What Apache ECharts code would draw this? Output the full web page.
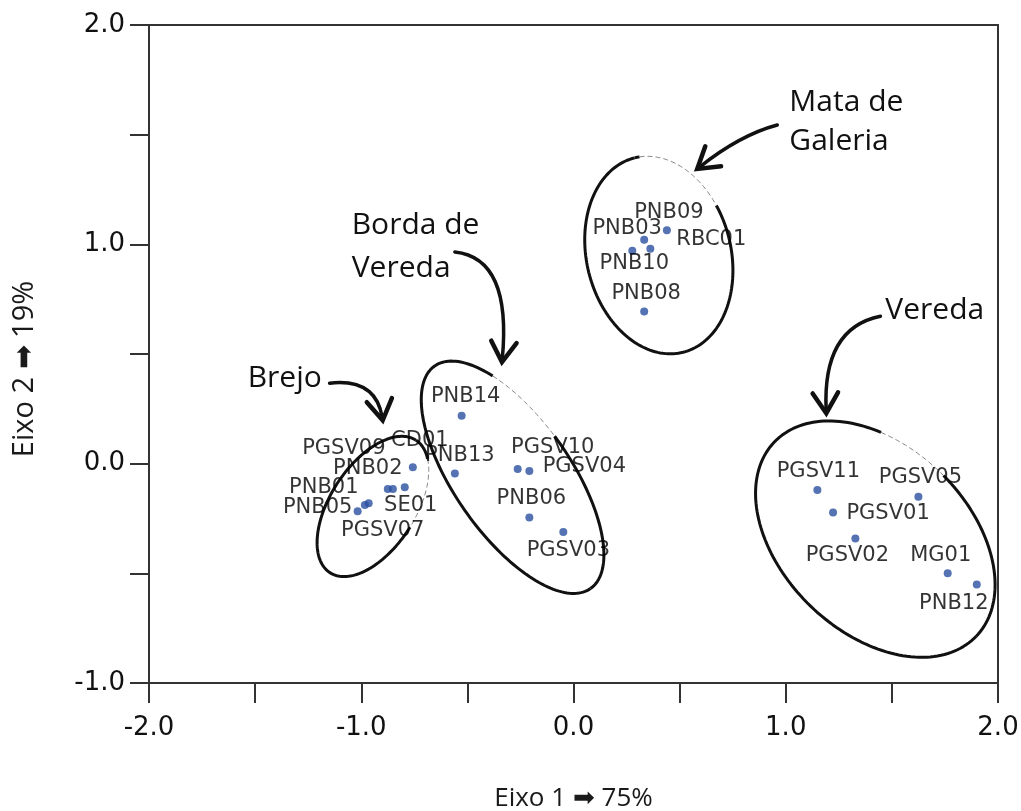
<!DOCTYPE html>
<html><head><meta charset="utf-8">
<script src="https://cdn.jsdelivr.net/npm/echarts@6/dist/echarts.min.js"></script>
<style>html,body{margin:0;padding:0;background:#fff}#c{width:1021px;height:811px}</style>
</head><body><div id="c"></div>
<script>
// ---- data ----
const pointNames = ['PNB14','PNB13','PGSV10','PGSV04','PNB06','PGSV03','PNB09','PNB03','RBC01','PNB10','PNB08','PGSV11','PGSV05','PGSV01','PGSV02','MG01','PNB12','PNB02','PNB01','CD01','SE01','PGSV09','PGSV07','PNB05'];
const eixo1 = [-0.527,-0.559,-0.263,-0.208,-0.208,-0.048,0.440,0.333,0.362,0.277,0.333,1.149,1.625,1.223,1.328,1.763,1.900,-0.757,-0.875,-0.851,-0.795,-0.983,-0.965,-1.017];
const eixo2 = [0.218,-0.045,-0.024,-0.033,-0.245,-0.311,1.064,1.021,0.980,0.971,0.694,-0.120,-0.151,-0.223,-0.341,-0.500,-0.551,-0.016,-0.116,-0.116,-0.107,-0.189,-0.180,-0.217];
const xTickLabels = ['-2.0','-1.0','0.0','1.0','2.0'];
const yTickLabels = ['-1.0','0.0','1.0','2.0'];
const groupNames = ['Brejo','Borda de','Vereda','Mata de','Galeria','Vereda'];

// ---- layout (label offsets in px, annotation geometry in data units) ----
const labelOffset = {
  PNB14:[4,-19], PNB13:[5,-18], PGSV10:[35,-21], PGSV04:[55,-4], PNB06:[2,-19], PGSV03:[5,19],
  PNB09:[2,-18], PNB03:[-17,-11], RBC01:[61,-9], PNB10:[2,13], PNB08:[2,-18],
  PGSV11:[1,-18], PGSV05:[2,-19], PGSV01:[55,1], PGSV02:[-8,17], MG01:[-7,-18], PNB12:[-23,19],
  PNB02:[-45,1], PNB01:[-64,-2], CD01:[27,-49], SE01:[6,18], PGSV09:[-21,-57], PGSV07:[14,27], PNB05:[-40,-4]
};
const ellipseLayout = [
  {c:[-0.945,-0.195], a:0.372, b:0.200, angle:57,  thin:[-30,40]},
  {c:[-0.287,-0.062], a:0.640, b:0.274, angle:-55, thin:[40,100]},
  {c:[0.402,0.951],   a:0.472, b:0.340, angle:104, thin:[40,100]},
  {c:[1.422,-0.344],  a:0.660, b:0.439, angle:-44, thin:[40,85]}
];
const arrowLayout = [
  {p0:[-1.149,0.367], cp:[-0.932,0.390], tip:[-0.899,0.198]},
  {p0:[-0.559,0.965], cp:[-0.290,0.937], tip:[-0.337,0.463]},
  {p0:[0.960,1.544],  cp:[0.785,1.499],  tip:[0.583,1.344]},
  {p0:[1.446,0.672],  cp:[1.172,0.618],  tip:[1.191,0.230]}
];
const textLayout = [[-1.535,0.39],[-1.045,1.088],[-1.045,0.892],[1.017,1.649],[1.017,1.469],[1.469,0.70]];

function inRange(phi, r){
  for (let k=-1;k<=1;k++){ const q = phi + 360*k; if (q>=r[0] && q<=r[1]) return true; }
  return false;
}

const scatterData = pointNames.map((n,i)=>({
  name:n, value:[eixo1[i], eixo2[i]],
  label:{offset: labelOffset[n]}
}));

const chart = echarts.init(document.getElementById('c'), null, {renderer:'canvas'});
const axisCol = '#333';
const tickFont = {fontFamily:'DejaVu Sans', fontSize:26, color:'#111'};
chart.setOption({
  animation:false,
  backgroundColor:'#ffffff',
  grid:{left:149, right:23, top:25, bottom:128, show:true, borderColor:axisCol, borderWidth:2, outerBoundsMode:'none', containLabel:false},
  xAxis:{
    type:'value', min:-2, max:2, interval:0.5,
    name:'Eixo 1 \u27A1 75%', nameLocation:'middle', nameGap:103,
    nameTextStyle:{fontFamily:'Open Sans', fontSize:26, color:'#1a1a1a'},
    axisLine:{show:true, onZero:false, lineStyle:{color:axisCol, width:2}},
    axisTick:{show:true, inside:false, length:20, lineStyle:{color:axisCol, width:2}},
    axisLabel:Object.assign({margin:32, formatter:v=>Number.isInteger(v)?xTickLabels[v+2]:''}, tickFont),
    splitLine:{show:false}
  },
  yAxis:{
    type:'value', min:-1, max:2, interval:0.5,
    name:'Eixo 2 \u27A1 19%', nameLocation:'middle', nameGap:110, nameRotate:90,
    nameTextStyle:{fontFamily:'Open Sans', fontSize:29, color:'#1a1a1a', padding:[0,30,0,0]},
    axisLine:{show:true, onZero:false, lineStyle:{color:axisCol, width:2}},
    axisTick:{show:true, inside:false, length:19, lineStyle:{color:axisCol, width:2}},
    axisLabel:Object.assign({margin:24, formatter:v=>Number.isInteger(v)?yTickLabels[v+1]:''}, tickFont),
    splitLine:{show:false}
  },
  series:[
    {
      type:'custom', name:'ellipses', coordinateSystem:'cartesian2d', clip:false, z:2,
      data: ellipseLayout.map(e=>e.c),
      renderItem:function(params, api){
        const e = ellipseLayout[params.dataIndex];
        const c = api.coord(e.c);
        const A = api.size([e.a,0])[0];
        const B = api.size([e.b,0])[0];
        const th = e.angle*Math.PI/180;
        const ux=Math.cos(th), uy=-Math.sin(th);
        const vx=-uy, vy=ux;
        const segs=[]; let cur=null; let curThin=null;
        for(let d=0; d<=360; d+=2){
          const t=d*Math.PI/180;
          const px=c[0]+A*Math.cos(t)*ux+B*Math.sin(t)*vx;
          const py=c[1]+A*Math.cos(t)*uy+B*Math.sin(t)*vy;
          const phi=Math.atan2(c[1]-py, px-c[0])*180/Math.PI;
          const thin=inRange(phi, e.thin);
          if(cur===null || thin!==curThin){
            const last = cur ? cur[cur.length-1] : null;
            cur=[]; if(last) cur.push(last);
            curThin=thin; segs.push({thin:thin, pts:cur});
          }
          cur.push([px,py]);
        }
        return {type:'group', children: segs.map(s=>({
          type:'polyline', shape:{points:s.pts},
          style: s.thin ? {stroke:'#888', lineWidth:1, lineDash:[5,3], fill:null}
                        : {stroke:'#111', lineWidth:3, fill:null, lineJoin:'round'}
        }))};
      }
    },
    {
      type:'custom', name:'arrows', coordinateSystem:'cartesian2d', clip:false, z:2,
      data: arrowLayout.map(a=>a.tip),
      renderItem:function(params, api){
        const a = arrowLayout[params.dataIndex];
        const p0=api.coord(a.p0), cp=api.coord(a.cp), tp=api.coord(a.tip);
        let dx=tp[0]-cp[0], dy=tp[1]-cp[1]; const L=Math.hypot(dx,dy); dx/=L; dy/=L;
        const arm=(ang)=>{const r=ang*Math.PI/180; const rx=dx*Math.cos(r)-dy*Math.sin(r), ry=dx*Math.sin(r)+dy*Math.cos(r); return [tp[0]-24*rx, tp[1]-24*ry];};
        return {type:'group', children:[
          {type:'bezierCurve', shape:{x1:p0[0],y1:p0[1],x2:tp[0]-3*dx,y2:tp[1]-3*dy,cpx1:cp[0],cpy1:cp[1]}, style:{stroke:'#111', lineWidth:3.5, fill:null, lineCap:'round'}},
          {type:'polyline', shape:{points:[arm(32), tp, arm(-32)]}, style:{stroke:'#111', lineWidth:4.5, fill:null, lineJoin:'miter', lineCap:'round'}}
        ]};
      }
    },
    {
      type:'custom', name:'groups', coordinateSystem:'cartesian2d', clip:false, z:3,
      data: textLayout,
      renderItem:function(params, api){
        const p = api.coord(textLayout[params.dataIndex]);
        return {type:'text', x:p[0], y:p[1], style:{text:groupNames[params.dataIndex], fill:'#111', font:'30px "Open Sans"', align:'left', verticalAlign:'middle'}};
      }
    },
    {
      type:'scatter', name:'amostras', z:5,
      symbol:'circle', symbolSize:8,
      itemStyle:{color:'#2b50a0'},
      label:{show:true, position:'inside', formatter:'{b}', fontFamily:'DejaVu Sans', fontSize:21, color:'#000'},
      data: scatterData
    }
  ]
});
</script>
</body></html>
